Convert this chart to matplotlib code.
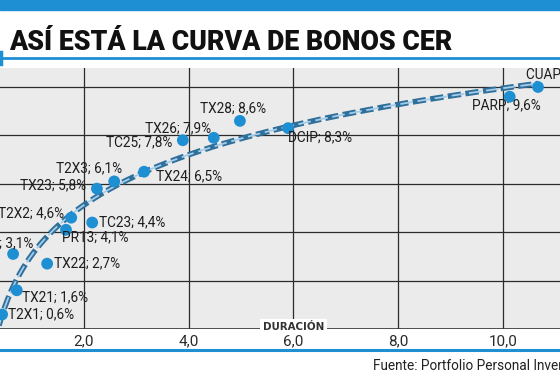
import numpy as np
import matplotlib
matplotlib.use("Agg")
import matplotlib.pyplot as plt

# ---- data ----
bonds = ["T2X1", "TC21", "TX21", "TX22", "PR13", "T2X2", "TC23", "TX23", "T2X3",
         "TX24", "TC25", "TX26", "TX28", "DCIP", "PARP", "CUAP"]
duration = [0.44, 0.65, 0.72, 1.30, 1.66, 1.76, 2.16, 2.25, 2.58,
            3.15, 3.89, 4.48, 4.98, 5.90, 10.13, 10.67]
rate = [0.6, 3.1, 1.6, 2.7, 4.1, 4.6, 4.4, 5.8, 6.1,
        6.5, 7.8, 7.9, 8.6, 8.3, 9.6, 10.0]
label_rate = ["0,6%", "3,1%", "1,6%", "2,7%", "4,1%", "4,6%", "4,4%", "5,8%", "6,1%",
              "6,5%", "7,8%", "7,9%", "8,6%", "8,3%", "9,6%", "10,0%"]
xticks = [2, 4, 6, 8, 10]
xtick_labels = ["2,0", "4,0", "6,0", "8,0", "10,0"]
yticks = [2, 4, 6, 8, 10]

# label offsets in pixels (dx, dy, ha)
offsets = {
    "T2X1": (6, 0, "left"), "TC21": (20, 11, "right"), "TX21": (5, -7, "left"),
    "TX22": (7, 0, "left"), "PR13": (-4, -8, "left"), "T2X2": (-7, 4, "right"),
    "TC23": (7, 0, "left"), "TX23": (-11, 3, "right"), "T2X3": (8, 13, "right"),
    "TX24": (12, -5, "left"), "TC25": (-10, -2, "right"), "TX26": (-3, 10, "right"),
    "TX28": (-7, 13, "center"), "DCIP": (0, -9, "left"), "PARP": (-3, -9, "center"),
    "CUAP": (-12, 13, "left"),
}

BLUE = "#1e8fd2"
W, H = 560, 376
fig = plt.figure(figsize=(W / 100, H / 100), dpi=100)
fig.patch.set_facecolor("white")

# plot area in pixels: y=0 at px 329, top at px 68
ax = fig.add_axes([0, (H - 329) / H, 1, (329 - 68) / H])
ax.set_xlim(0.40, 11.09)
ax.set_ylim(0, (329 - 68) / 24.2)
ax.set_facecolor("#ebebeb")
for s in ax.spines.values():
    s.set_visible(False)

ax.set_xticks(xticks)
ax.set_xticklabels(xtick_labels, fontsize=11, color="#2a2a2a", family="Roboto")
ax.set_yticks(yticks)
ax.set_yticklabels([])
ax.tick_params(length=0, pad=3.5)
ax.grid(True, color="#2b2b2b", lw=0.9)
ax.set_axisbelow(True)
ax.axhline(0, color="#333333", lw=1.2, zorder=2)

# trend line (logarithmic fit)
b, a = np.polyfit(np.log(duration), rate, 1)
xs = np.linspace(0.38, max(duration), 300)
ys = a + b * np.log(xs)
ax.plot(xs, ys, color="#2f6f9a", lw=4.0, dashes=(2.4, 0.8), zorder=3,
        dash_capstyle="butt")
ax.plot(xs, ys, color="#a3cdea", lw=1.3, dashes=(7.0, 2.6), zorder=3.1,
        dash_capstyle="butt")

ax.scatter(duration, rate, s=72, color=BLUE, zorder=4, edgecolors="none")

for name, x, y, lr in zip(bonds, duration, rate, label_rate):
    dx, dy, ha = offsets[name]
    ax.annotate(f"{name}; {lr}", (x, y), xytext=(dx * 0.72, dy * 0.72),
                textcoords="offset points", ha=ha, va="center",
                fontsize=9.8, color="#1e1e1e", family="Roboto", zorder=5,
                annotation_clip=False)

ax.text(6.0, 0.1, "DURACIÓN", ha="center", va="center", fontsize=7.4,
        family="DejaVu Sans", fontweight="bold", color="#333333",
        bbox=dict(facecolor="white", edgecolor="none", pad=2.0), zorder=5)

# header / footer decorations
def fy(px):
    return 1 - px / H

fig.patches.append(plt.Rectangle((0, fy(10)), 1, 10 / H, transform=fig.transFigure,
                                 color=BLUE, zorder=1))
fig.add_artist(plt.Line2D([0, 1], [fy(58), fy(58)], color=BLUE, lw=2.0))
fig.add_artist(plt.Line2D([0.002, 0.002], [fy(52), fy(64)], color=BLUE, lw=2.5))
fig.add_artist(plt.Line2D([0, 1], [fy(350), fy(350)], color=BLUE, lw=2.2))

fig.text(9 / W, fy(42), "ASÍ ESTÁ LA CURVA DE BONOS CER", ha="left", va="center",
         fontsize=19.3, fontweight="heavy", family="Roboto", color="#111111")
fig.text(373 / W, fy(366), "Fuente: Portfolio Personal Inversiones", ha="left",
         va="center", fontsize=9.8, family="Roboto", color="#222222")

fig.savefig("out.png", dpi=100)
